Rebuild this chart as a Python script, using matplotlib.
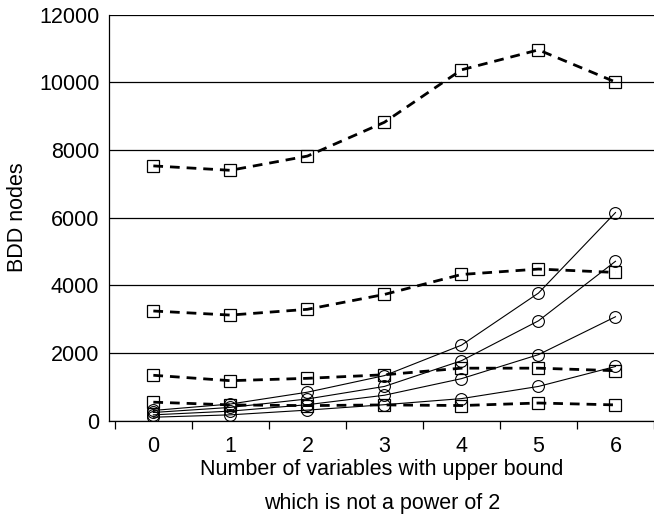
import numpy as np
import matplotlib.pyplot as plt

plt.rcParams['font.family'] = ['Liberation Sans', 'DejaVu Sans']

x = [0, 1, 2, 3, 4, 5, 6]

# dashed series (square markers)
sq_a = [7530, 7400, 7820, 8820, 10370, 10960, 10010]
sq_b = [3240, 3120, 3290, 3730, 4320, 4480, 4380]
sq_c = [1340, 1180, 1250, 1355, 1550, 1550, 1475]
sq_d = [545, 464, 443, 464, 445, 520, 464]

# solid series (circle markers)
ci_a = [300, 490, 840, 1330, 2230, 3770, 6150]
ci_b = [240, 390, 640, 1010, 1770, 2950, 4710]
ci_c = [170, 280, 470, 750, 1240, 1950, 3070]
ci_d = [100, 170, 310, 470, 650, 1010, 1600]

fig = plt.figure(figsize=(6.54, 5.17), dpi=100)
ax = fig.add_axes([109/654, (517-420.6)/517, 1 - 109/654, (420.6-14.7)/517])

for yy in [sq_a, sq_b, sq_c, sq_d]:
    ax.plot(x, yy, color='black', lw=2, dashes=(3.5, 2.5), marker='s',
            markersize=9, markerfacecolor='none', markeredgecolor='black',
            markeredgewidth=0.9, zorder=3)

for yy in [ci_a, ci_b, ci_c, ci_d]:
    ax.plot(x, yy, color='black', lw=0.8, marker='o', markersize=8.5,
            markerfacecolor='none', markeredgecolor='black',
            markeredgewidth=0.8, zorder=3)

ax.set_ylim(0, 12000)
ax.set_xlim((109 - 153.5) / 77.3, (654 - 153.5) / 77.3)
ax.set_yticks(np.arange(0, 12001, 2000))
ax.yaxis.grid(True, color='black', lw=0.9)
ax.set_axisbelow(True)
ax.tick_params(axis='y', length=0, pad=7, labelsize=15.5)

ax.set_xticks(x)
ax.set_xticks(np.arange(-0.5, 6.6, 1), minor=True)
ax.tick_params(axis='x', which='major', length=0, pad=11, labelsize=15.5)
ax.tick_params(axis='x', which='minor', length=6, width=0.9, direction='out')

for s in ['top', 'right']:
    ax.spines[s].set_visible(False)
ax.spines['left'].set_linewidth(0.9)
ax.spines['bottom'].set_linewidth(0.9)

ax.set_ylabel('BDD nodes', fontsize=15.5, labelpad=8)

# two-line x axis title, placed line by line
fig.text(382/654, 1 - 470/517, 'Number of variables with upper bound',
         ha='center', va='center', fontsize=15.5)
fig.text(382/654, 1 - 503/517, 'which is not a power of 2',
         ha='center', va='center', fontsize=15.5)

fig.savefig('out.png', dpi=100)
